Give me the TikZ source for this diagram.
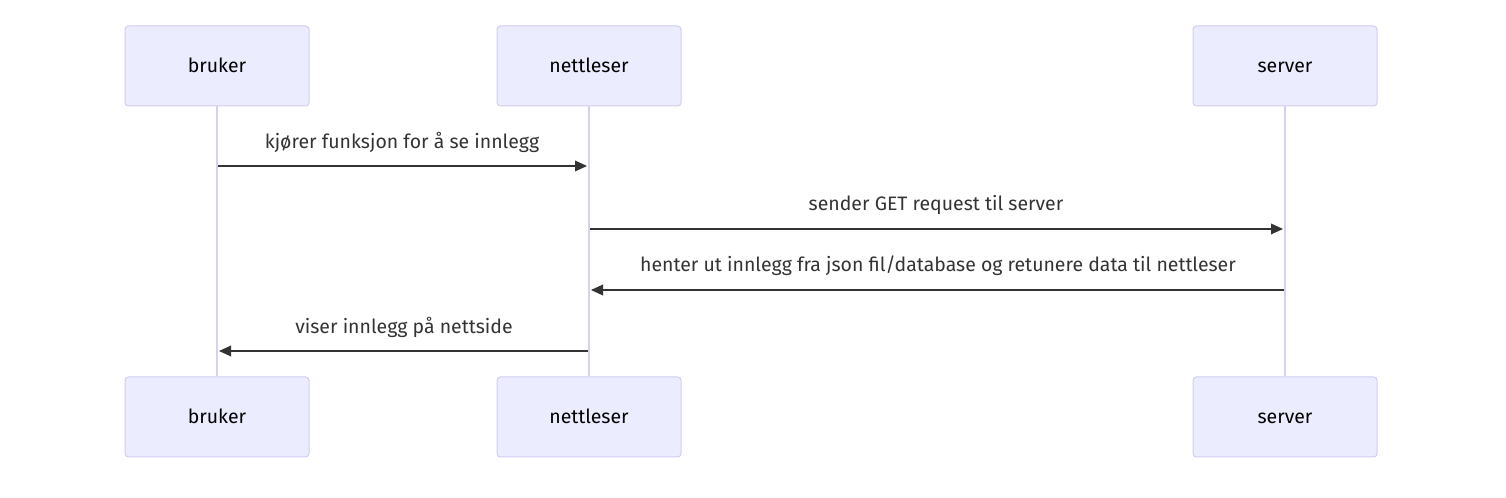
\documentclass[tikz,border=0pt]{standalone}
\usepackage{fontspec}
\setmainfont{Fira Sans}
\usetikzlibrary{arrows.meta}
\definecolor{actfill}{HTML}{ECECFF}
\definecolor{actborder}{HTML}{D3CCF2}
\definecolor{lifeline}{HTML}{D8D0F2}
\definecolor{msg}{HTML}{333333}
\tikzset{
  actor/.style={draw=actborder, fill=actfill, rounded corners=2.5pt, minimum width=138pt, minimum height=60pt, inner sep=0pt, font=\fontsize{14.6}{17}\selectfont, text=black, line width=0.75pt, text height=12pt, text depth=2.5pt},
  lline/.style={draw=lifeline, line width=1.5pt},
  message/.style={draw=msg, line width=1pt, -{Triangle[length=9pt,width=8pt]}},
  mlabel/.style={font=\fontsize{14.6}{17}\selectfont, text=msg, inner sep=0pt, text height=11.5pt, text depth=3pt}
}
\begin{document}
\begin{tikzpicture}[x=0.75pt,y=-0.75pt]
\useasboundingbox (0,0) rectangle (1506,498);
% lifelines
\coordinate (b1) at (217,105); \coordinate (b2) at (217,376);
\coordinate (n1) at (589,105); \coordinate (n2) at (589,376);
\coordinate (s1) at (1285,105); \coordinate (s2) at (1285,376);
\draw[lline] (b1) -- (b2);
\draw[lline] (n1) -- (n2);
\draw[lline] (s1) -- (s2);
% actors
\node[actor] (bt) at (217,66) {bruker};
\node[actor] (nt) at (589,66) {nettleser};
\node[actor] (st) at (1285,66) {server};
\node[actor] (bb) at (217,417) {bruker};
\node[actor] (nb) at (589,417) {nettleser};
\node[actor] (sb) at (1285,417) {server};
% message endpoints
\coordinate (m1a) at (218,166); \coordinate (m1b) at (587,166);
\coordinate (m2a) at (590,229); \coordinate (m2b) at (1283,229);
\coordinate (m3a) at (1284,290); \coordinate (m3b) at (591,290);
\coordinate (m4a) at (588,351); \coordinate (m4b) at (219,351);
\draw[message] (m1a) -- (m1b);
\draw[message] (m2a) -- (m2b);
\draw[message] (m3a) -- (m3b);
\draw[message] (m4a) -- (m4b);
% labels
\node[mlabel] (l1) at (402,143) {kjører funksjon for å se innlegg};
\node[mlabel] (l2) at (936,205) {sender GET request til server};
\node[mlabel] (l3) at (938,266) {henter ut innlegg fra json fil/database og retunere data til nettleser};
\node[mlabel] (l4) at (404,328) {viser innlegg på nettside};
\end{tikzpicture}
\end{document}
